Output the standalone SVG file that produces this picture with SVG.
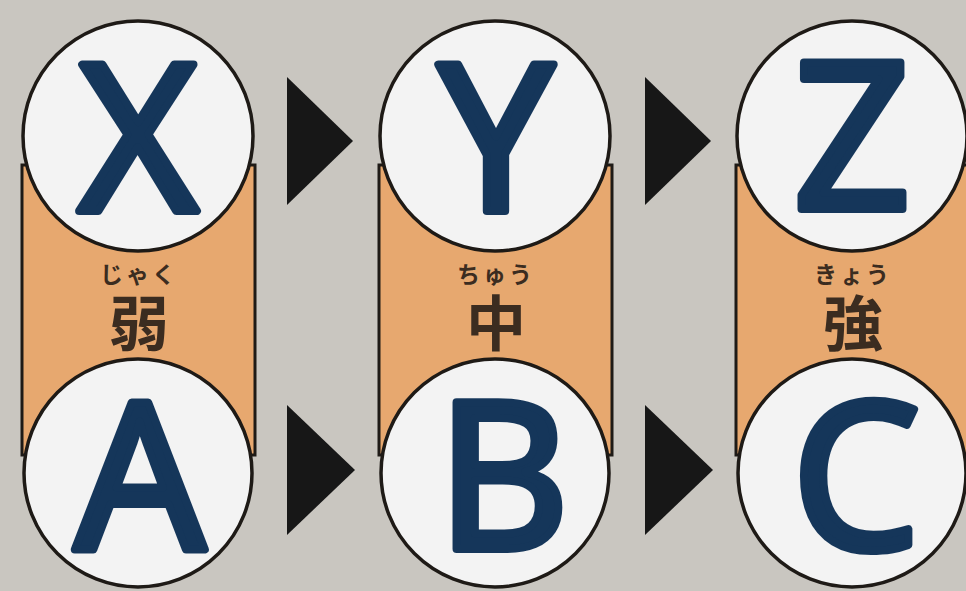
<svg xmlns="http://www.w3.org/2000/svg" width="966" height="591" viewBox="0 0 966 591">
<style>
.bg{fill:#c9c6c0}
.band{fill:#e7a86f;stroke:#1e1a16;stroke-width:3}
.circ{fill:#f3f3f3;stroke:#1e1a16;stroke-width:3.5}
.let{font-family:"Noto Sans","DejaVu Sans",sans-serif;font-weight:normal;font-size:204px;fill:#15365a;stroke:#15365a;stroke-width:8;stroke-linejoin:round;stroke-linecap:round;text-anchor:middle}
.kan{font-family:"Noto Sans CJK JP",sans-serif;font-weight:bold;font-size:60px;fill:#3b2c20;text-anchor:middle}
.ruby{font-family:"Noto Sans CJK JP",sans-serif;font-weight:bold;font-size:23px;fill:#3b2c20;text-anchor:middle;letter-spacing:3px}
.arr{fill:#171717}
</style>
<rect class="bg" x="0" y="0" width="966" height="591"/>
<g id="band-weak">
<rect class="band" x="22" y="165" width="233" height="290"/>
<text class="ruby" x="139" y="283">じゃく</text>
<text class="kan" x="139" y="346">弱</text>
</g>
<g id="band-mid">
<rect class="band" x="379" y="165" width="233" height="290"/>
<text class="ruby" x="496" y="283">ちゅう</text>
<text class="kan" x="496" y="346">中</text>
</g>
<g id="band-strong">
<rect class="band" x="736" y="165" width="233" height="290"/>
<text class="ruby" x="853" y="283">きょう</text>
<text class="kan" x="853" y="346">強</text>
</g>
<g id="node-X"><circle class="circ" cx="138" cy="136" r="115"/><text class="let" x="138" y="211">X</text></g>
<g id="node-Y"><circle class="circ" cx="495" cy="136" r="115"/><text class="let" x="496" y="211">Y</text></g>
<g id="node-Z"><circle class="circ" cx="852" cy="136" r="115"/><text class="let" x="852" y="209">Z</text></g>
<g id="node-A"><circle class="circ" cx="138" cy="473" r="114"/><text class="let" x="140" y="549">A</text></g>
<g id="node-B"><circle class="circ" cx="495" cy="473" r="114"/><text class="let" x="503" y="549">B</text></g>
<g id="node-C"><circle class="circ" cx="852" cy="473" r="114"/><text class="let" x="856" y="549">C</text></g>
<g id="connectors">
<polygon class="arr" points="287,77 353,141 287,205"/>
<polygon class="arr" points="645,77 711,141 645,205"/>
<polygon class="arr" points="287,405 355,470 287,535"/>
<polygon class="arr" points="645,405 713,470 645,535"/>
</g>
</svg>
